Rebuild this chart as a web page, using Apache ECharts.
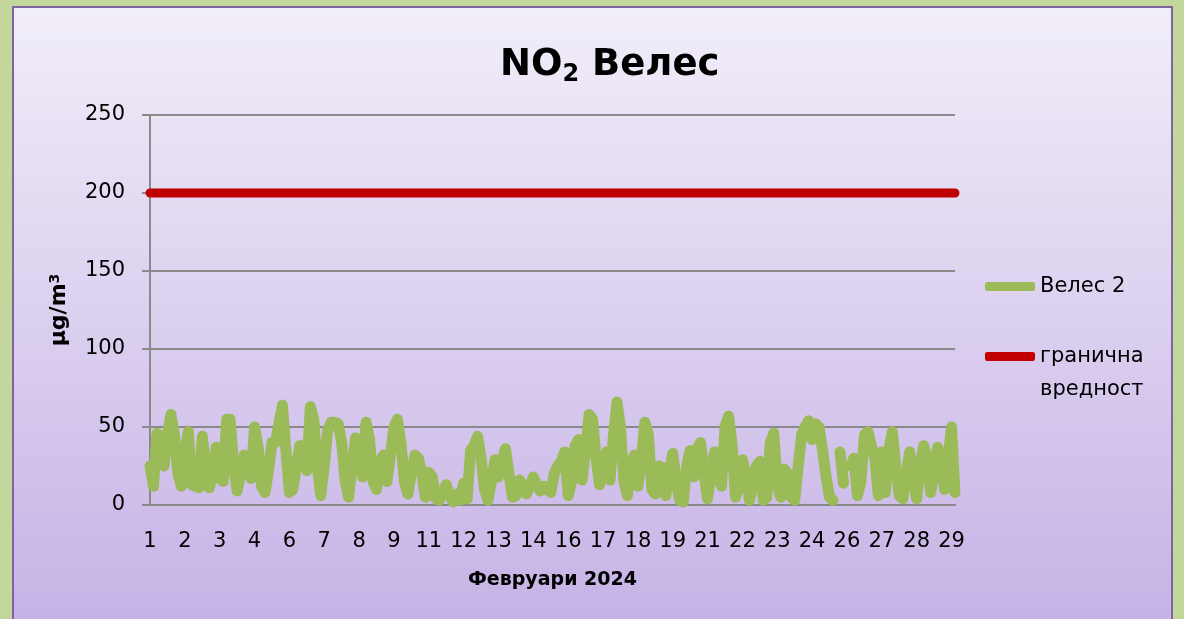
<!DOCTYPE html>
<html>
<head>
<meta charset="utf-8">
<title>NO2 Велес</title>
<script src="https://cdn.jsdelivr.net/npm/echarts@6/dist/echarts.min.js"></script>
<style>
    html, body { margin: 0; padding: 0; background: #c3d69b; }
    #main { width: 1184px; height: 619px; }
</style>
</head>
<body>
<div id="main"></div>
<script>
// days of February 2024, 8 readings per day (every 3 hours)
var dayNumbers = [1, 2, 3, 4, 5, 6, 7, 8, 9, 10, 11, 12, 13, 14, 15, 16, 17, 18, 19, 20,
    21, 22, 23, 24, 25, 26, 27, 28, 29];
var readingsPerDay = 8;

// Велес 2, µg/m3 (null = no data)
var velesValues = [
    25, 12, 46, 30, 25, 45, 58, 45,      // 1
    20, 12, 35, 47, 13, 12, 11, 44,      // 2
    25, 11, 20, 37, 17, 15, 55, 55,      // 3
    25, 9, 20, 32, 25, 17, 50, 38,       // 4
    12, 8, 22, 40, 40, 52, 64, 35,       // 5
    8, 10, 25, 38, 38, 22, 63, 55,       // 6
    25, 6, 25, 48, 53, 53, 52, 40,       // 7
    15, 5, 25, 43, 30, 18, 53, 42,       // 8
    15, 10, 28, 32, 15, 32, 50, 55,      // 9
    40, 15, 7, 20, 32, 30, 20, 5,        // 10
    21, 18, 4, 3, 8, 13, 6, 2,           // 11
    7, 3, 14, 4, 35, 38, 44, 30,         // 12
    10, 3, 15, 29, 18, 28, 36, 20,       // 13
    5, 6, 16, 12, 7, 12, 18, 13,         // 14
    9, 12, 10, 8, 20, 25, 28, 34,        // 15
    6, 15, 38, 42, 16, 35, 58, 55,       // 16
    30, 13, 25, 34, 16, 45, 66, 50,      // 17
    15, 6, 25, 32, 12, 30, 53, 45,       // 18
    10, 7, 25, 24, 6, 20, 33, 15,        // 19
    3, 2, 25, 35, 18, 36, 40, 20,        // 20
    4, 20, 34, 20, 12, 50, 57, 40,       // 21
    5, 12, 29, 20, 3, 12, 25, 28,        // 22
    3, 5, 40, 46, 12, 5, 23, 20,         // 23
    5, 3, 25, 45, 50, 54, 42, 52,        // 24
    50, 35, 18, 5, 3, null, 34, 14,      // 25
    null, 25, 30, 6, 15, 45, 47, 38,     // 26
    30, 6, 34, 8, 35, 47, 25, 6,         // 27
    4, 20, 34, 15, 4, 25, 38, 30,        // 28
    8, 20, 37, 30, 10, 30, 50, 8         // 29
];

var limitValue = 200;
var yTicks = [0, 50, 100, 150, 200, 250];

var categories = [];
dayNumbers.forEach(function (d) {
    for (var k = 0; k < readingsPerDay; k++) {
        categories.push(String(d));
    }
});
var limitValues = categories.map(function () { return limitValue; });

var myChart = echarts.init(document.getElementById('main'));
var font = 'DejaVu Sans';
var gridGray = '#8a8a8a';

var option = {
    backgroundColor: '#c3d69b',
    animation: false,
    textStyle: { fontFamily: font },
    graphic: [{
        type: 'rect',
        z: -10,
        silent: true,
        shape: { x: 13, y: 7, width: 1159, height: 640 },
        style: {
            fill: new echarts.graphic.LinearGradient(0, 0, 0, 1, [
                { offset: 0, color: '#f2eef9' },
                { offset: 1, color: '#c4b0e5' }
            ]),
            stroke: '#8064a2',
            lineWidth: 2
        }
    }],
    title: {
        text: '{a|NO}{s|2}{a| Велес}',
        left: 495,
        top: 38,
        textStyle: {
            rich: {
                a: { fontFamily: font, fontSize: 37, fontWeight: 'bold', color: '#000', lineHeight: 44 },
                s: { fontFamily: font, fontSize: 24, fontWeight: 'bold', color: '#000', verticalAlign: 'bottom', lineHeight: 26 }
            }
        }
    },
    legend: {
        orient: 'vertical',
        left: 985,
        top: 270,
        padding: 0,
        itemWidth: 50,
        itemHeight: 9,
        itemGap: 4,
        icon: 'roundRect',
        textStyle: { fontFamily: font, fontSize: 21, color: '#000', lineHeight: 33 },
        formatter: function (name) {
            // keep the first line level with the icon, like Excel's wrapped legend
            return name === 'гранична вредност' ? ' \nгранична\nвредност' : name;
        },
        data: ['Велес 2', 'гранична вредност']
    },
    grid: { left: 150, top: 115, width: 805, height: 390 },
    xAxis: {
        type: 'category',
        data: categories,
        boundaryGap: false,
        name: 'Февруари 2024',
        nameLocation: 'middle',
        nameGap: 66,
        nameTextStyle: { fontFamily: font, fontSize: 19, fontWeight: 'bold', color: '#000' },
        axisLine: { lineStyle: { color: gridGray, width: 2 } },
        axisTick: { show: false },
        axisLabel: { interval: 9, margin: 26, fontSize: 21, color: '#000', fontFamily: font }
    },
    yAxis: {
        type: 'value',
        min: yTicks[0],
        max: yTicks[yTicks.length - 1],
        interval: 50,
        name: 'µg/m{sup|3}',
        nameLocation: 'middle',
        nameRotate: 90,
        nameGap: 80,
        nameTextStyle: {
            fontFamily: font, fontSize: 22, fontWeight: 'bold', color: '#000',
            rich: { sup: { fontSize: 14, fontWeight: 'bold', verticalAlign: 'top', fontFamily: font, color: '#000' } }
        },
        axisLine: { show: true, lineStyle: { color: gridGray, width: 2 } },
        axisTick: { show: true, length: 8, lineStyle: { color: gridGray, width: 2 } },
        splitLine: { lineStyle: { color: gridGray, width: 2 } },
        axisLabel: { margin: 25, fontSize: 21, color: '#000', fontFamily: font }
    },
    series: [
        {
            name: 'Велес 2',
            type: 'line',
            data: velesValues,
            symbol: 'none',
            connectNulls: false,
            itemStyle: { color: '#9bbb59' },
            lineStyle: { color: '#9bbb59', width: 11, cap: 'round', join: 'round' },
            z: 3
        },
        {
            name: 'гранична вредност',
            type: 'line',
            data: limitValues,
            symbol: 'none',
            itemStyle: { color: '#c00000' },
            lineStyle: { color: '#c00000', width: 9, cap: 'round' },
            z: 4
        }
    ]
};

myChart.setOption(option);
</script>
</body>
</html>
